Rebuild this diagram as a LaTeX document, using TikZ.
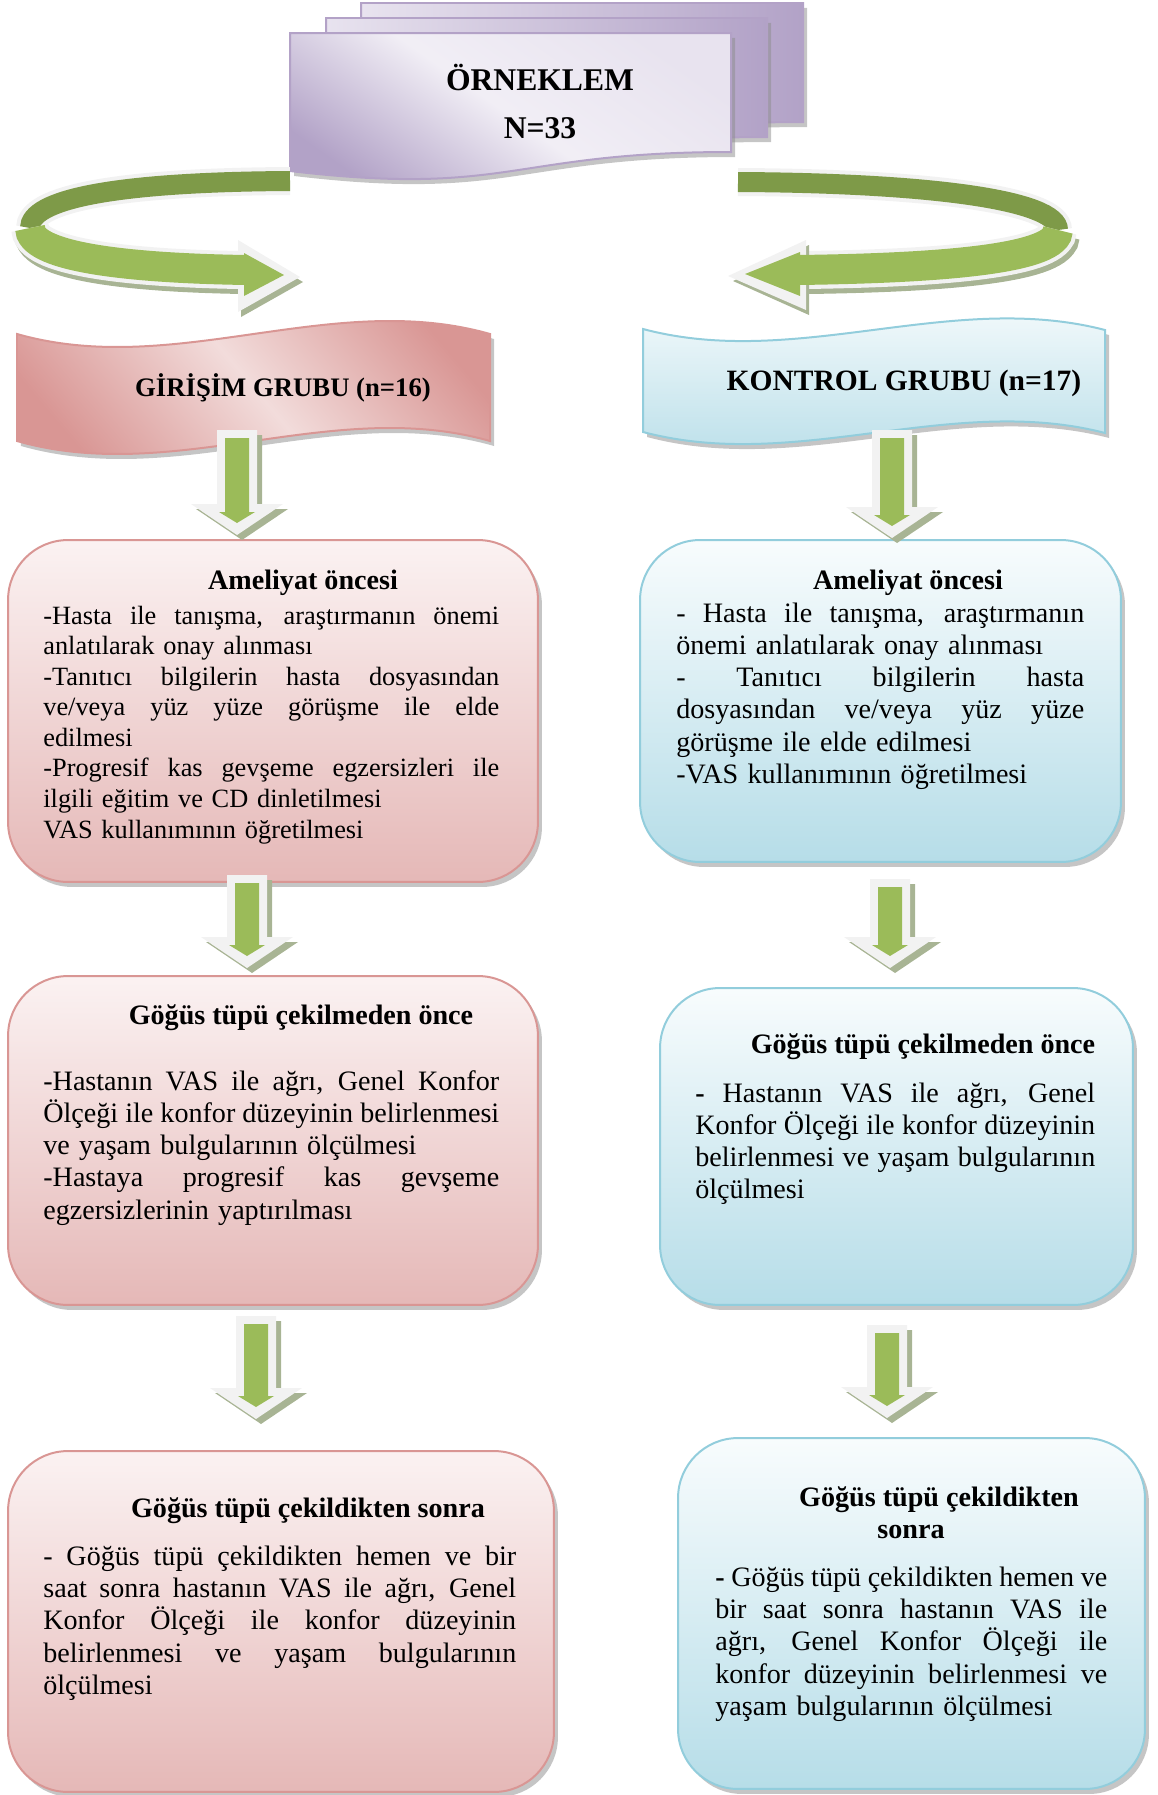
\documentclass[tikz,border=0pt]{standalone}
\usepackage{fontspec}
\setmainfont{Liberation Serif}
\usetikzlibrary{calc,shadows}

\definecolor{pinkline}{HTML}{D99694}
\definecolor{pinktop}{HTML}{FBF2F2}
\definecolor{pinkbot}{HTML}{E5B8B7}
\definecolor{pinklight}{HTML}{F2DCDB}
\definecolor{blueline}{HTML}{92CDDC}
\definecolor{bluetop}{HTML}{F8FCFD}
\definecolor{bluebot}{HTML}{B6DDE8}
\definecolor{lilacline}{HTML}{B3A2C7}
\definecolor{lilaclight}{HTML}{E8E3EF}
\definecolor{lilacdark}{HTML}{B2A2C7}
\definecolor{arrowgreen}{HTML}{9BBB59}
\definecolor{darkgreen}{HTML}{7E9A48}
\definecolor{rimgray}{HTML}{F2F2F2}
\definecolor{sage}{HTML}{A8B494}

\newlength{\bodyw}
\newcommand{\jl}[1]{\leavevmode\hbox to \bodyw{\spaceskip=0.25em plus 1fil minus 0.1em\relax #1}}
% outline of a block arrow from #1 (top) to #2 (tip), moved by #3
\newcommand{\arrowpath}[3]{($(#1)+(-20,0)+#3$) -- ($(#1)+(20,0)+#3$) -- ($(#2)+(20,-31)+#3$) -- ($(#2)+(46,-31)+#3$) -- ($(#2)+#3$) -- ($(#2)+(-46,-31)+#3$) -- ($(#2)+(-20,-31)+#3$) -- cycle}
\newcommand{\greenpath}[2]{($(#1)+(-12,8)$) -- ($(#1)+(12,8)$) -- ($(#2)+(12,-23)$) -- ($(#2)+(18,-23)$) -- ($(#2)+(0,-12)$) -- ($(#2)+(-18,-23)$) -- ($(#2)+(-12,-23)$) -- cycle}
\newcommand{\blockarrow}[2]{%
  \fill[sage] \arrowpath{#1}{#2}{(5,5)};
  \fill[rimgray] \arrowpath{#1}{#2}{(0,0)};
  \fill[arrowgreen] \greenpath{#1}{#2};
}

\begin{document}
\begin{tikzpicture}[x=0.02cm, y=-0.02cm,
    boxshadow/.style={drop shadow={shadow xshift=0.08cm, shadow yshift=-0.1cm, fill=black!45, opacity=0.5}},
    pinkbox/.style={draw=pinkline, line width=0.04cm, rounded corners=1.2cm, top color=pinktop, bottom color=pinkbot, boxshadow},
    bluebox/.style={draw=blueline, line width=0.04cm, rounded corners=1.2cm, top color=bluetop, bottom color=bluebot, boxshadow},
    doc/.style={draw=lilacline, line width=0.04cm, left color=lilaclight, right color=lilacdark, boxshadow},
    heading/.style={font=\bfseries\fontsize{16}{18.4}\selectfont, inner sep=0pt},
    body/.style={font=\fontsize{16}{18.4}\selectfont, inner sep=0pt, align=left, anchor=base west,
      text width=#1, /utils/exec={\setlength{\bodyw}{#1}}}]
  \path[use as bounding box] (0,0) rectangle (1157,1795);

  % Sample
  \path[doc] (361,3) -- (803,3) -- (803,122) .. controls (582,122) and (582,167) .. (361,141) -- cycle;
  \path[doc] (326,18) -- (767,18) -- (767,137) .. controls (546,137) and (546,182) .. (326,156) -- cycle;
  \path[doc, top color=lilaclight, bottom color=lilacdark, middle color=lilaclight!60!white, shading angle=-35]
    (290,33) -- (731,33) -- (731,152) .. controls (510,152) and (510,197) .. (290,171) -- cycle;
  \node[font=\bfseries\fontsize{18}{21}\selectfont] (ornek) at (540,77) {ÖRNEKLEM};
  \node[font=\bfseries\fontsize{18}{21}\selectfont] (n33) at (540,128) {N=33};

  % Return arrows
  \draw[line width=0.56cm, rimgray] (290,181) .. controls (110,182) and (30,200) .. (30,228);
  \draw[line width=0.4cm, darkgreen] (290,181) .. controls (110,182) and (30,200) .. (30,228);
  \draw[line width=0.76cm, sage] (33,233) .. controls (33,261) and (123,273) .. (243,275);
  \draw[line width=0.76cm, rimgray] (30,228) .. controls (30,256) and (120,268) .. (240,270);
  \fill[sage] (241,245) -- (303,282) -- (241,317) -- cycle;
  \fill[rimgray] (238,240) -- (300,277) -- (238,312) -- cycle;
  \draw[line width=0.6cm, arrowgreen] (30,228) .. controls (30,256) and (120,268) .. (246,270);
  \fill[arrowgreen] (244,253) -- (284,275) -- (244,296) -- cycle;

  \draw[line width=0.56cm, rimgray] (738,182) .. controls (930,183) and (1058,200) .. (1058,230);
  \draw[line width=0.4cm, darkgreen] (738,182) .. controls (930,183) and (1058,200) .. (1058,230);
  \draw[line width=0.76cm, sage] (1061,235) .. controls (1061,263) and (953,273) .. (808,275);
  \draw[line width=0.76cm, rimgray] (1058,230) .. controls (1058,258) and (950,268) .. (805,270);
  \fill[sage] (809,245) -- (733,281) -- (809,315) -- cycle;
  \fill[rimgray] (806,240) -- (728,276) -- (806,310) -- cycle;
  \draw[line width=0.6cm, arrowgreen] (1058,230) .. controls (1058,258) and (950,268) .. (798,270);
  \fill[arrowgreen] (800,252) -- (745,274) -- (800,296) -- cycle;

  % Groups
  \path[draw=pinkline, line width=0.04cm, top color=pinkline, bottom color=pinkline, middle color=pinklight, shading angle=-50, boxshadow]
    (17,334) .. controls (175,379) and (332,289) .. (490,334) -- (490,441)
    .. controls (332,396) and (175,486) .. (17,441) -- cycle;
  \node[font=\bfseries\fontsize{15.2}{18}\selectfont] (girisim) at (283,388) {GİRİŞİM GRUBU (n=16)};
  \path[draw=blueline, line width=0.04cm, top color=bluetop, bottom color=bluebot, boxshadow]
    (643,329) .. controls (797,370) and (951,290) .. (1105,330) -- (1105,433)
    .. controls (951,393) and (797,473) .. (643,432) -- cycle;
  \node[font=\bfseries\fontsize{16.8}{20}\selectfont] (kontrol) at (904,383) {KONTROL GRUBU (n=17)};

  % Boxes
  \node[pinkbox, minimum width=10.6cm, minimum height=6.84cm] (g1) at (273,711) {};
  \node[pinkbox, minimum width=10.6cm, minimum height=6.58cm] (g2) at (273,1140.5) {};
  \node[pinkbox, minimum width=10.92cm, minimum height=6.82cm] (g3) at (281,1621.5) {};
  \node[bluebox, minimum width=9.62cm, minimum height=6.44cm] (k1) at (880.5,701) {};
  \node[bluebox, minimum width=9.46cm, minimum height=6.34cm] (k2) at (896.5,1146.5) {};
  \node[bluebox, minimum width=9.34cm, minimum height=7.02cm] (k3) at (911.5,1613.5) {};

  % Texts
  \node[heading] (g1h) at (303,583) {Ameliyat öncesi};
  \node[body=9.12cm, font=\fontsize{15}{17.4}\selectfont] (g1t) at (43,624) {%
    \jl{-Hasta ile tanışma, araştırmanın önemi}\\
    anlatılarak onay alınması\\
    \jl{-Tanıtıcı bilgilerin hasta dosyasından}\\
    \jl{ve/veya yüz yüze görüşme ile elde}\\
    edilmesi\\
    \jl{-Progresif kas gevşeme egzersizleri ile}\\
    ilgili eğitim ve CD dinletilmesi\\
    VAS kullanımının öğretilmesi};
  \node[heading] (g2h) at (301,1018) {Göğüs tüpü çekilmeden önce};
  \node[body=9.12cm] (g2t) at (43,1090) {%
    \jl{-Hastanın VAS ile ağrı, Genel Konfor}\\
    \jl{Ölçeği ile konfor düzeyinin belirlenmesi}\\
    ve yaşam bulgularının ölçülmesi\\
    \jl{-Hastaya progresif kas gevşeme}\\
    egzersizlerinin yaptırılması};
  \node[heading] (g3h) at (308,1511) {Göğüs tüpü çekildikten sonra};
  \node[body=9.46cm] (g3t) at (43,1565) {%
    \jl{- Göğüs tüpü çekildikten hemen ve bir}\\
    \jl{saat sonra hastanın VAS ile ağrı, Genel}\\
    \jl{Konfor Ölçeği ile konfor düzeyinin}\\
    \jl{belirlenmesi ve yaşam bulgularının}\\
    ölçülmesi};

  \node[heading] (k1h) at (908,583) {Ameliyat öncesi};
  \node[body=8.16cm] (k1t) at (676,622) {%
    \jl{- Hasta ile tanışma, araştırmanın}\\
    önemi anlatılarak onay alınması\\
    \jl{- Tanıtıcı bilgilerin hasta}\\
    \jl{dosyasından ve/veya yüz yüze}\\
    görüşme ile elde edilmesi\\
    -VAS kullanımının öğretilmesi};
  \node[heading] (k2h) at (923,1047) {Göğüs tüpü çekilmeden önce};
  \node[body=8cm] (k2t) at (695,1102) {%
    \jl{\textbf{-} Hastanın VAS ile ağrı, Genel}\\
    \jl{Konfor Ölçeği ile konfor düzeyinin}\\
    \jl{belirlenmesi ve yaşam bulgularının}\\
    ölçülmesi};
  \node[heading] (k3h) at (939,1500) {Göğüs tüpü çekildikten};
  \node[heading] (k3h2) at (911,1532) {sonra};
  \node[body=7.84cm] (k3t) at (715,1586) {%
    \jl{\textbf{-} Göğüs tüpü çekildikten hemen ve}\\
    \jl{bir saat sonra hastanın VAS ile}\\
    \jl{ağrı, Genel Konfor Ölçeği ile}\\
    \jl{konfor düzeyinin belirlenmesi ve}\\
    yaşam bulgularının ölçülmesi};

  % Down arrows
  \coordinate (a1) at (237,430); \coordinate (a1e) at (237,535);
  \coordinate (a2) at (247,875); \coordinate (a2e) at (247,968);
  \coordinate (a3) at (256,1316); \coordinate (a3e) at (256,1419);
  \coordinate (b1) at (892,430); \coordinate (b1e) at (892,538);
  \coordinate (b2) at (890,879); \coordinate (b2e) at (890,968);
  \coordinate (b3) at (887,1325); \coordinate (b3e) at (887,1418);
  \blockarrow{a1}{a1e}
  \blockarrow{a2}{a2e}
  \blockarrow{a3}{a3e}
  \blockarrow{b1}{b1e}
  \blockarrow{b2}{b2e}
  \blockarrow{b3}{b3e}
\end{tikzpicture}
\end{document}
